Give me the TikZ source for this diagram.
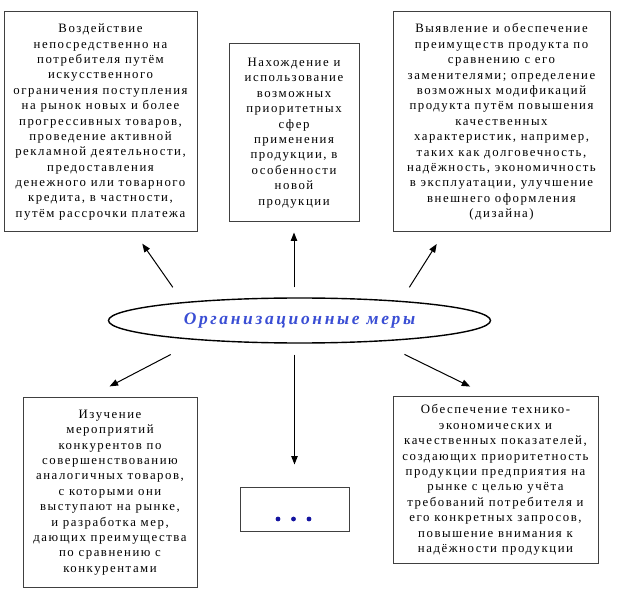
\documentclass[tikz,border=0pt]{standalone}
\usepackage{fontspec}
\setmainfont{Liberation Serif}
\newfontfamily\boxfont{Liberation Serif}[LetterSpace=12]
\newfontfamily\orgfont{Liberation Serif}[LetterSpace=15]
\usetikzlibrary{arrows.meta,shapes.geometric,calc}
\definecolor{orgblue}{RGB}{58,78,212}
\definecolor{dotblue}{RGB}{20,20,160}

\begin{document}
\begin{tikzpicture}[x=1pt,y=-1pt,
    box/.style={draw=black!75,line width=1pt,align=center,inner sep=0pt,
      font=\boxfont\fontsize{12.8}{15.4}\selectfont},
    arr/.style={-{Triangle[length=8.5pt,width=6.5pt]},line width=1pt}]
  \useasboundingbox (0,0) rectangle (625,599);
  % upper row
  \node[box,minimum width=193pt,minimum height=220pt] (tl) at (100.5,122)
    {Воздействие\\непосредственно на\\потребителя путём\\искусственного\\ограничения поступления\\на рынок новых и более\\прогрессивных товаров,\\проведение активной\\рекламной деятельности,\\предоставления\\денежного или товарного\\кредита, в частности,\\путём рассрочки платежа};
  \node[box,minimum width=130pt,minimum height=178pt] (up) at (294,133)
    {Нахождение и\\использование\\возможных\\приоритетных\\сфер\\применения\\продукции, в\\особенности\\новой\\продукции};
  \node[box,minimum width=217pt,minimum height=220pt] (tr) at (501.5,122)
    {Выявление и обеспечение\\преимуществ продукта по\\сравнению с его\\заменителями; определение\\возможных модификаций\\продукта путём повышения\\качественных\\характеристик, например,\\таких как долговечность,\\надёжность, экономичность\\в эксплуатации, улучшение\\внешнего оформления\\(дизайна)};
  % centre
  \node[ellipse,draw,line width=1.4pt,minimum width=382pt,minimum height=45pt,inner sep=0pt,
    font=\orgfont\bfseries\itshape\fontsize{17.5}{19}\selectfont,text=orgblue] (org) at (299.5,320.5)
    {Организационные меры};
  % lower row
  \node[box,minimum width=174pt,minimum height=189pt] (bl) at (110,492.5)
    {Изучение\\мероприятий\\конкурентов по\\совершенствованию\\аналогичных товаров,\\с которыми они\\выступают на рынке,\\и разработка мер,\\дающих преимущества\\по сравнению с\\конкурентами};
  \node[box,minimum width=109pt,minimum height=44pt] (dots) at (294.5,509) {};
  \foreach \x in {278,293.5,309}
    \fill[dotblue] (\x,519) circle (2.4pt);
  \node[box,minimum width=205pt,minimum height=166pt] (br) at (495.5,480)
    {Обеспечение технико-\\экономических и\\качественных показателей,\\создающих приоритетность\\продукции предприятия на\\рынке с целью учёта\\требований потребителя и\\его конкретных запросов,\\повышение внимания к\\надёжности продукции};
  % arrows
  \draw[arr,shorten <=18pt,shorten >=13.6pt] (org.171) -- ($(tl.south)+(34,0)$);
  \draw[arr,shorten <=10pt,shorten >=10pt] (org.north -| up.south) -- (up.south);
  \draw[arr,shorten <=16pt,shorten >=13.6pt] (org.11.7) -- ($(tr.south)+(-57.5,0)$);
  \draw[arr,shorten <=31pt,shorten >=24pt] (org.191.4) -- ($(bl.north)+(-21.7,0)$);
  \draw[arr,shorten <=11pt,shorten >=22pt] (org.south -| dots.north) -- (dots.north);
  \draw[arr,shorten <=29pt,shorten >=22.6pt] (org.345.2) -- ($(br.north)+(-5,0)$);
\end{tikzpicture}
\end{document}
